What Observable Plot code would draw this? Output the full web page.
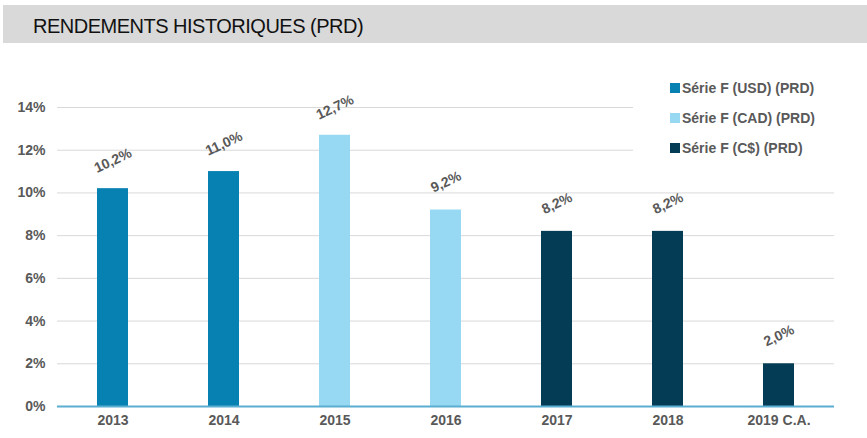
<!DOCTYPE html>
<html>
<head>
<meta charset="utf-8">
<script src="https://cdn.jsdelivr.net/npm/d3@7"></script>
<script src="https://cdn.jsdelivr.net/npm/@observablehq/plot@0.6"></script>
<style>
  html, body { margin: 0; padding: 0; background: #fff; width: 867px; height: 438px; overflow: hidden; font-family: "Liberation Sans", Arial, sans-serif; }
  #header { position: absolute; left: 3px; top: 5px; width: 864px; height: 38px; background: #d9d9d9; }
  #header span { position: absolute; left: 30px; top: 10.5px; font-size: 20px; line-height: 20px; color: #111; letter-spacing: -0.5px; white-space: nowrap; }
  #chart { position: absolute; left: 0; top: 43px; }
  #legend { position: absolute; left: 633px; top: 78px; width: 230px; height: 86px; background: #fff; }
  .item { position: absolute; left: 37px; font-size: 14px; line-height: 16px; font-weight: bold; color: #595959; white-space: nowrap; }
  .sw { display: inline-block; width: 10px; height: 10px; margin-right: 2px; vertical-align: 0px; }
</style>
</head>
<body>
<div id="header"><span>RENDEMENTS HISTORIQUES (PRD)</span></div>
<div id="chart"></div>
<div id="legend"></div>
<script>
const categories = ["2013", "2014", "2015", "2016", "2017", "2018", "2019 C.A."];
const values = [10.2, 11.0, 12.7, 9.2, 8.2, 8.2, 2.0];
const seriesOf = ["Série F (USD) (PRD)", "Série F (USD) (PRD)", "Série F (CAD) (PRD)", "Série F (CAD) (PRD)", "Série F (C$) (PRD)", "Série F (C$) (PRD)", "Série F (C$) (PRD)"];
const seriesNames = ["Série F (USD) (PRD)", "Série F (CAD) (PRD)", "Série F (C$) (PRD)"];
const seriesColors = ["#0681b1", "#97d9f3", "#033c54"];
const yTicks = [0, 2, 4, 6, 8, 10, 12, 14];

const data = categories.map((c, i) => ({cat: c, value: values[i], series: seriesOf[i]}));
const fmt = v => v.toFixed(1).replace(".", ",") + "%";

const chart = Plot.plot({
  width: 867,
  height: 395,
  marginLeft: 57,
  marginRight: 33,
  marginTop: 64,
  marginBottom: 32,
  style: {fontFamily: "Liberation Sans, Arial, sans-serif", background: "transparent"},
  x: {domain: categories, paddingInner: 0.72, paddingOuter: 0.36, label: null},
  y: {domain: [0, 14], label: null},
  color: {domain: seriesNames, range: seriesColors},
  marks: [
    Plot.ruleY(yTicks.filter(d => d > 0), {stroke: "#d9d9d9", strokeWidth: 1}),
    Plot.barY(data, {x: "cat", y: "value", fill: "series"}),
    Plot.ruleY([0], {stroke: "#5aaed2", strokeWidth: 2}),
    Plot.axisY({ticks: yTicks, tickFormat: d => d + "%", tickSize: 0, tickPadding: 12, fontSize: 14, fontWeight: "bold", fill: "#595959", label: null}),
    Plot.axisX({tickSize: 0, tickPadding: 9, fontSize: 14, fontWeight: "bold", fill: "#595959", label: null}),
    Plot.text(data, {x: "cat", y: "value", text: d => fmt(d.value), dy: -28, rotate: -25, fontSize: 14, fontWeight: "bold", fill: "#595959", textAnchor: "middle", lineAnchor: "middle"})
  ]
});
document.getElementById("chart").appendChild(chart);

const legend = document.getElementById("legend");
seriesNames.forEach((n, i) => {
  const d = document.createElement("div");
  d.className = "item";
  d.style.top = (2 + i * 30) + "px";
  const sw = document.createElement("span");
  sw.className = "sw";
  sw.style.background = seriesColors[i];
  d.appendChild(sw);
  d.appendChild(document.createTextNode(n));
  legend.appendChild(d);
});
</script>
</body>
</html>
